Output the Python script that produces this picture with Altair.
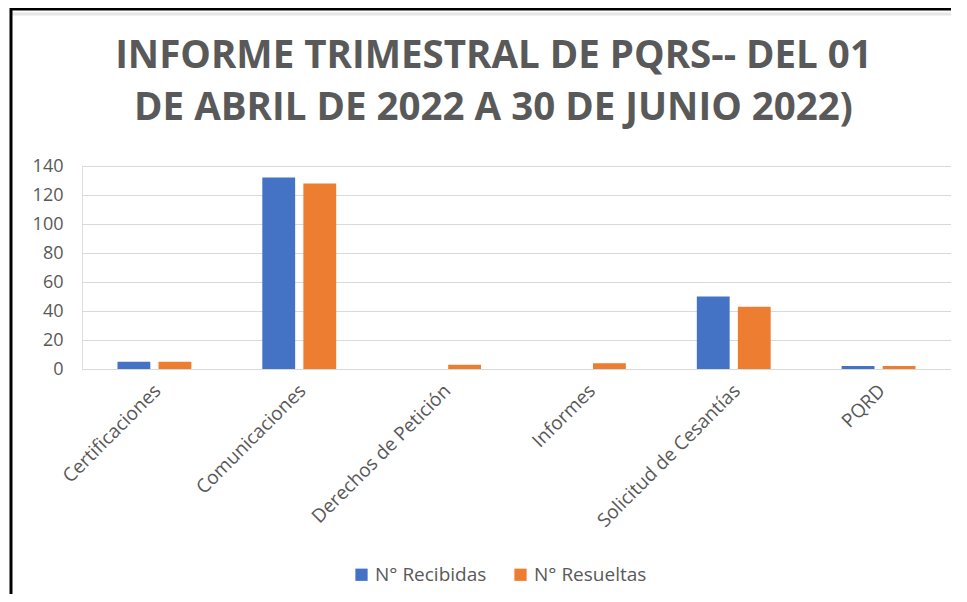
import altair as alt
import pandas as pd

categories = ["Certificaciones", "Comunicaciones", "Derechos de Petición",
              "Informes", "Solicitud de Cesantías", "PQRD"]
recibidas = [5, 132, 0, 0, 50, 2]
resueltas = [5, 128, 3, 4, 43, 2]
series = ["N° Recibidas", "N° Resueltas"]
colors = ["#4472C4", "#ED7D31"]
y_ticks = [0, 20, 40, 60, 80, 100, 120, 140]
title_lines = ["INFORME TRIMESTRAL DE PQRS-- DEL 01", "DE ABRIL DE 2022 A 30 DE JUNIO 2022)"]

rows = []
for c, r, s in zip(categories, recibidas, resueltas):
    rows.append({"cat": c, "serie": series[0], "val": r})
    rows.append({"cat": c, "serie": series[1], "val": s})
df = pd.DataFrame(rows)

FONT = "Open Sans"
GRAY = "#595959"

bars = alt.Chart(df).mark_bar().encode(
    x=alt.X("cat:N", sort=categories, title=None,
            scale=alt.Scale(paddingInner=0.49, paddingOuter=0.245),
            axis=alt.Axis(labelAngle=-45, labelAlign="right", labelBaseline="top",
                          labelFontSize=19, labelColor=GRAY, labelFont=FONT,
                          ticks=False, domainColor="#d9d9d9", labelPadding=12,
                          labelOffset=-3, labelLimit=300)),
    xOffset=alt.XOffset("serie:N", sort=series,
                        scale=alt.Scale(paddingInner=0.2, paddingOuter=0)),
    y=alt.Y("val:Q", title=None,
            scale=alt.Scale(domain=[0, 140], nice=False),
            axis=alt.Axis(values=y_ticks, domain=False, ticks=False,
                          labelFontSize=18, labelColor=GRAY, labelFont=FONT,
                          labelPadding=19, gridColor="#d9d9d9")),
    color=alt.Color("serie:N", sort=series,
                    scale=alt.Scale(domain=series, range=colors),
                    legend=alt.Legend(title=None, orient="none", direction="horizontal",
                                      legendX=270, legendY=399,
                                      symbolType="square", symbolSize=150,
                                      symbolStrokeWidth=0,
                                      labelFontSize=19, labelColor=GRAY, labelFont=FONT,
                                      columnPadding=24)),
)

deco = pd.DataFrame({"a": [0]})
top_line = alt.Chart(deco).mark_rule(color="black", strokeWidth=3).encode(
    x=alt.value(-72), x2=alt.value(890), y=alt.value(-157))
grid_line = alt.Chart(deco).mark_rule(color="#e6e6e6", strokeWidth=3).encode(
    x=alt.value(-70), x2=alt.value(890), y=alt.value(-152))
left_line = alt.Chart(deco).mark_rule(color="black", strokeWidth=3).encode(
    x=alt.value(-71), y=alt.value(-158), y2=alt.value(440))

chart = alt.layer(top_line, grid_line, left_line, bars).properties(
    width=869, height=203,
    autosize=alt.AutoSizeParams(type="none"),
    padding={"left": 74, "top": 158, "right": 0, "bottom": 225},
    title=alt.TitleParams(text=title_lines, fontSize=38.5, font=FONT, fontWeight="bold",
                          color=GRAY, anchor="middle", frame="group", dx=-23, dy=126,
                          lineHeight=52),
).configure_view(stroke=None).configure(background="white")

chart.save("out.html", embed_options={"renderer": "svg", "actions": False})
